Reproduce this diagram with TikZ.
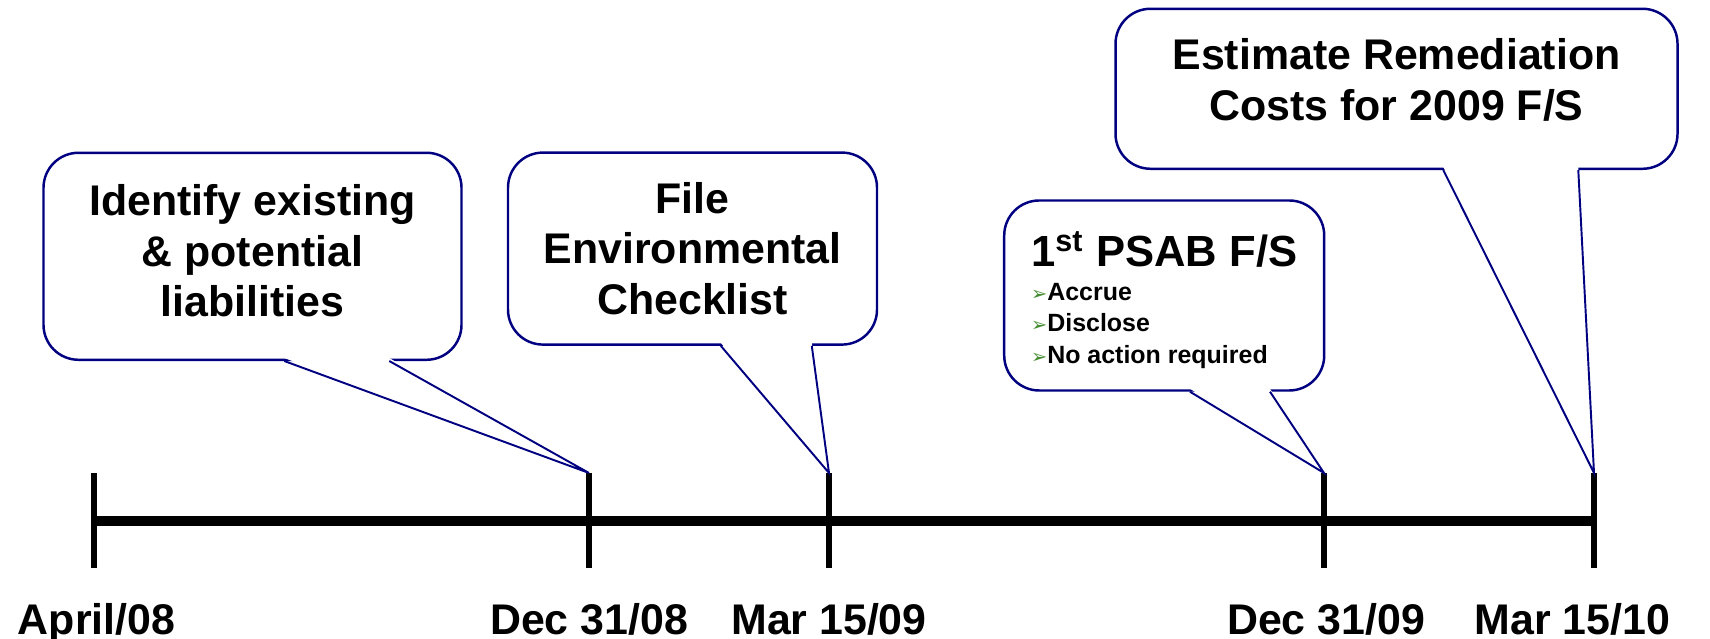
\documentclass[tikz,border=0pt]{standalone}
\usepackage{fontspec}
\setmainfont{Liberation Sans}
\newfontfamily\dejavu{DejaVu Sans}
\definecolor{navy1}{RGB}{0, 0, 128}
\definecolor{green1}{RGB}{70, 140, 50}
\usetikzlibrary{positioning, calc}

\newcommand{\bul}{{\dejavu\fontsize{5.5}{5}\selectfont\textcolor{green1}{➢}}}

\tikzset{
  bubble/.style={draw=navy1, fill=white, line width=0.7pt, rounded corners=0.35cm, inner sep=0pt},
  bubbletext/.style={align=center, inner sep=0pt, font=\fontsize{12.2}{14.4}\selectfont\bfseries},
  tail/.style={draw=navy1, line width=0.55pt},
  datelabel/.style={anchor=base, inner sep=0pt, font=\fontsize{12.2}{14}\selectfont\bfseries},
}

\begin{document}
\begin{tikzpicture}
  \useasboundingbox (0,0) rectangle (17.1,6.39);

  % timeline and ticks
  \coordinate (start) at (0.94,1.18);
  \coordinate (end) at (15.94,1.18);
  \draw[line width=2.6pt] (start) -- (end);
  \foreach \x/\name in {0.94/t0, 5.89/t1, 8.29/t2, 13.24/t3, 15.94/t4} {
    \draw[line width=1.6pt] (\x,0.71) -- (\x,1.66) coordinate (\name);
  }

  % dates
  \node[datelabel] (d0) at (0.965,0.045) {April/08};
  \node[datelabel] (d1) at (5.89,0.045) {Dec 31/08};
  \node[datelabel] (d2) at (8.29,0.045) {Mar 15/09};
  \node[datelabel] (d3) at (13.26,0.045) {Dec 31/09};
  \node[datelabel, anchor=base east] (d4) at (16.71,0.045) {Mar 15/10};

  % callouts
  \node[bubble, minimum width=4.18cm, minimum height=2.07cm] (b1) at (2.525,3.827) {};
  \node[bubble, minimum width=3.69cm, minimum height=1.92cm] (b2) at (6.925,3.904) {};
  \node[bubble, minimum width=3.2cm, minimum height=1.9cm] (b3) at (11.642,3.435) {};
  \node[bubble, minimum width=5.62cm, minimum height=1.6cm] (b4) at (13.965,5.502) {};

  % pointers down to the ticks
  \foreach \b/\t/\p/\q in {b1/t1/2.42/3.47, b2/t2/2.14/3.05, b3/t3/1.87/2.67, b4/t4/3.29/4.64} {
    \fill[white] ($(\b.south west)+(\p,0.03)$) -- ($(\b.south west)+(\q,0.03)$) -- (\t) -- cycle;
    \draw[tail] ($(\b.south west)+(\p,0)$) -- (\t) -- ($(\b.south west)+(\q,0)$);
  }

  % callout texts
  \node[bubbletext] (b1txt) at ([yshift=0.055cm]b1.center) {Identify existing\\ \& potential\\ liabilities};
  \node[bubbletext] (b2txt) at (b2.center) {File\\ Environmental\\ Checklist};
  \node[bubbletext, align=left, font=\fontsize{7.1}{9}\selectfont\bfseries] (b3txt) at ([yshift=-0.045cm]b3.center) {%
    {\fontsize{12.4}{9}\selectfont 1\textsuperscript{st} PSAB F/S}\\[0.6pt]
    \bul Accrue\\
    \bul Disclose\\
    \bul No action required};
  \node[bubbletext] (b4txt) at ([yshift=0.087cm]b4.center) {Estimate Remediation\\ Costs for 2009 F/S};
\end{tikzpicture}
\end{document}
